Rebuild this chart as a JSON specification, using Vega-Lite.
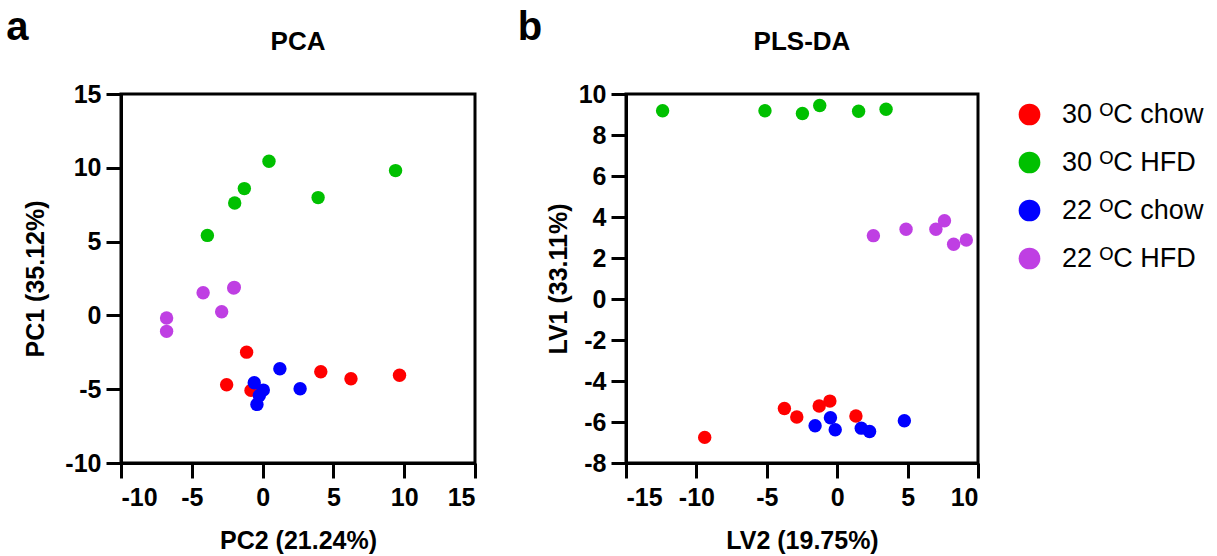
{
  "$schema": "https://vega.github.io/schema/vega-lite/v6.json",
  "background": "white",
  "padding": {"left": 6, "top": 7, "right": 5, "bottom": 5},
  "datasets": {
    "pca": [
      {"x": 0.45, "y": 10.44, "group": "30 ᴼC HFD"},
      {"x": 9.39, "y": 9.81, "group": "30 ᴼC HFD"},
      {"x": -1.29, "y": 8.59, "group": "30 ᴼC HFD"},
      {"x": -1.97, "y": 7.62, "group": "30 ᴼC HFD"},
      {"x": 3.92, "y": 7.98, "group": "30 ᴼC HFD"},
      {"x": -3.9, "y": 5.42, "group": "30 ᴼC HFD"},
      {"x": -4.2, "y": 1.54, "group": "22 ᴼC HFD"},
      {"x": -2.04, "y": 1.85, "group": "22 ᴼC HFD"},
      {"x": -2.0, "y": 1.9, "group": "22 ᴼC HFD"},
      {"x": -2.89, "y": 0.25, "group": "22 ᴼC HFD"},
      {"x": -6.78, "y": -0.18, "group": "22 ᴼC HFD"},
      {"x": -6.78, "y": -1.08, "group": "22 ᴼC HFD"},
      {"x": -1.13, "y": -2.49, "group": "30 ᴼC chow"},
      {"x": -2.54, "y": -4.7, "group": "30 ᴼC chow"},
      {"x": -0.82, "y": -5.08, "group": "30 ᴼC chow"},
      {"x": 4.11, "y": -3.82, "group": "30 ᴼC chow"},
      {"x": 6.24, "y": -4.29, "group": "30 ᴼC chow"},
      {"x": 9.67, "y": -4.05, "group": "30 ᴼC chow"},
      {"x": 1.22, "y": -3.62, "group": "22 ᴼC chow"},
      {"x": 2.65, "y": -4.97, "group": "22 ᴼC chow"},
      {"x": -0.59, "y": -4.56, "group": "22 ᴼC chow"},
      {"x": 0.05, "y": -5.06, "group": "22 ᴼC chow"},
      {"x": -0.23, "y": -5.42, "group": "22 ᴼC chow"},
      {"x": -0.4, "y": -6.03, "group": "22 ᴼC chow"}
    ],
    "plsda": [
      {"x": -12.4, "y": 9.18, "group": "30 ᴼC HFD"},
      {"x": -5.13, "y": 9.18, "group": "30 ᴼC HFD"},
      {"x": -2.47, "y": 9.05, "group": "30 ᴼC HFD"},
      {"x": -1.24, "y": 9.44, "group": "30 ᴼC HFD"},
      {"x": 1.52, "y": 9.16, "group": "30 ᴼC HFD"},
      {"x": 3.47, "y": 9.26, "group": "30 ᴼC HFD"},
      {"x": 2.57, "y": 3.09, "group": "22 ᴼC HFD"},
      {"x": 4.89, "y": 3.4, "group": "22 ᴼC HFD"},
      {"x": 7.01, "y": 3.4, "group": "22 ᴼC HFD"},
      {"x": 7.62, "y": 3.82, "group": "22 ᴼC HFD"},
      {"x": 8.27, "y": 2.67, "group": "22 ᴼC HFD"},
      {"x": 9.17, "y": 2.88, "group": "22 ᴼC HFD"},
      {"x": -9.41, "y": -6.75, "group": "30 ᴼC chow"},
      {"x": -3.75, "y": -5.34, "group": "30 ᴼC chow"},
      {"x": -2.87, "y": -5.76, "group": "30 ᴼC chow"},
      {"x": -1.28, "y": -5.22, "group": "30 ᴼC chow"},
      {"x": -0.52, "y": -4.98, "group": "30 ᴼC chow"},
      {"x": 1.33, "y": -5.71, "group": "30 ᴼC chow"},
      {"x": -1.57, "y": -6.18, "group": "22 ᴼC chow"},
      {"x": -0.48, "y": -5.79, "group": "22 ᴼC chow"},
      {"x": -0.14, "y": -6.38, "group": "22 ᴼC chow"},
      {"x": 1.71, "y": -6.3, "group": "22 ᴼC chow"},
      {"x": 2.3, "y": -6.46, "group": "22 ᴼC chow"},
      {"x": 4.77, "y": -5.94, "group": "22 ᴼC chow"}
    ]
  },
  "config": {
    "font": "Liberation Sans",
    "view": {"stroke": "black", "strokeWidth": 3},
    "axis": {
      "grid": false,
      "domainColor": "black",
      "domainWidth": 3,
      "tickColor": "black",
      "tickWidth": 3,
      "tickSize": 15,
      "labelFont": "Liberation Sans",
      "labelFontSize": 25,
      "labelFontWeight": "bold",
      "labelColor": "black",
      "labelExpr": "replace(datum.label, '−', '-')",
      "titleFont": "Liberation Sans",
      "titleFontSize": 25,
      "titleFontWeight": "bold",
      "titleColor": "black"
    },
    "axisX": {"labelPadding": 7, "titlePadding": 18},
    "axisY": {"labelPadding": 5},
    "title": {"font": "Liberation Sans", "fontSize": 26, "fontWeight": "bold", "color": "black"},
    "legend": {
      "title": null,
      "symbolType": "circle",
      "symbolSize": 470,
      "symbolOpacity": 1,
      "symbolStrokeWidth": 0,
      "labelFont": "Liberation Sans",
      "labelFontSize": 27,
      "labelColor": "black",
      "labelOffset": 19,
      "rowPadding": 20,
      "padding": 7,
      "offset": 28
    }
  },
  "spacing": 39,
  "hconcat": [
    {
      "title": {"text": "a", "anchor": "start", "fontSize": 40, "dx": -16, "offset": -20},
      "hconcat": [
        {
          "width": 354,
          "height": 369,
          "title": {"text": "PCA", "offset": 27},
          "layer": [
            {
              "mark": {"type": "rule", "color": "black", "strokeWidth": 3, "strokeDash": [3, 8]},
              "encoding": {"x": {"datum": 0, "type": "quantitative"}}
            },
            {
              "mark": {"type": "rule", "color": "black", "strokeWidth": 3, "strokeDash": [3, 8]},
              "encoding": {"y": {"datum": 0, "type": "quantitative"}}
            },
            {
              "data": {"name": "pca"},
              "mark": {"type": "point", "filled": true, "size": 180, "opacity": 1},
              "encoding": {
                "x": {"field": "x", "type": "quantitative",
                  "scale": {"domain": [-10, 15], "nice": false, "zero": false},
                  "axis": {"title": "PC2 (21.24%)", "values": [-10, -5, 0, 5, 10, 15]}},
                "y": {"field": "y", "type": "quantitative",
                  "scale": {"domain": [-10, 15], "nice": false, "zero": false},
                  "axis": {"title": "PC1 (35.12%)", "values": [-10, -5, 0, 5, 10, 15], "titlePadding": 16}},
                "color": {"field": "group", "type": "nominal",
                  "scale": {"domain": ["30 ᴼC chow", "30 ᴼC HFD", "22 ᴼC chow", "22 ᴼC HFD"],
                            "range": ["#ff0000", "#00c000", "#0000ff", "#bf3fe3"]}}
              }
            }
          ]
        }
      ]
    },
    {
      "title": {"text": "b", "anchor": "start", "fontSize": 40, "dx": -27, "offset": -20},
      "hconcat": [
        {
          "width": 352,
          "height": 369,
          "title": {"text": "PLS-DA", "offset": 27},
          "layer": [
            {
              "mark": {"type": "rule", "color": "black", "strokeWidth": 3, "strokeDash": [3, 8]},
              "encoding": {"x": {"datum": 0, "type": "quantitative"}}
            },
            {
              "mark": {"type": "rule", "color": "black", "strokeWidth": 3, "strokeDash": [3, 8]},
              "encoding": {"y": {"datum": 0, "type": "quantitative"}}
            },
            {
              "data": {"name": "plsda"},
              "mark": {"type": "point", "filled": true, "size": 180, "opacity": 1},
              "encoding": {
                "x": {"field": "x", "type": "quantitative",
                  "scale": {"domain": [-15, 10], "nice": false, "zero": false},
                  "axis": {"title": "LV2 (19.75%)", "values": [-15, -10, -5, 0, 5, 10]}},
                "y": {"field": "y", "type": "quantitative",
                  "scale": {"domain": [-8, 10], "nice": false, "zero": false},
                  "axis": {"title": "LV1 (33.11%)", "values": [-8, -6, -4, -2, 0, 2, 4, 6, 8, 10], "titlePadding": 7}},
                "color": {"field": "group", "type": "nominal",
                  "scale": {"domain": ["30 ᴼC chow", "30 ᴼC HFD", "22 ᴼC chow", "22 ᴼC HFD"],
                            "range": ["#ff0000", "#00c000", "#0000ff", "#bf3fe3"]}}
              }
            }
          ]
        }
      ]
    }
  ]
}
